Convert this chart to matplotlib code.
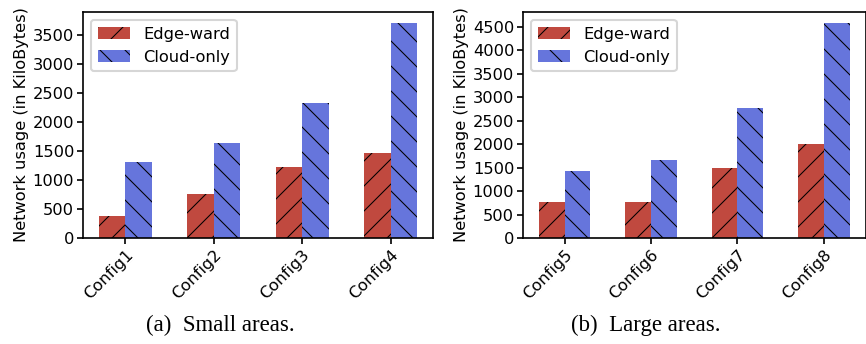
import numpy as np
from matplotlib import pyplot as plt

plt.rcParams['hatch.linewidth'] = 0.5
plt.rcParams['font.size'] = 7.8
plt.rcParams['ytick.major.pad'] = 1.2
plt.rcParams['xtick.major.pad'] = 1.5
plt.rcParams['ytick.major.size'] = 3
plt.rcParams['xtick.major.size'] = 3

configs_small = ['Config1', 'Config2', 'Config3', 'Config4']
edge_small = [375, 752, 1217, 1475]
cloud_small = [1303, 1647, 2336, 3714]

configs_large = ['Config5', 'Config6', 'Config7', 'Config8']
edge_large = [758, 758, 1480, 2004]
cloud_large = [1417, 1650, 2776, 4582]

red = '#c0493f'
blue = '#6675dc'
W, H = 866, 344

fig = plt.figure(figsize=(W / 150, H / 150), dpi=150)
ax1 = fig.add_axes([83 / W, 1 - 238 / H, 350 / W, 226 / H])
ax2 = fig.add_axes([523 / W, 1 - 238 / H, 342.5 / W, 226 / H])

width = 0.3
for ax, names, edge, cloud, yticks in [
        (ax1, configs_small, edge_small, cloud_small, range(0, 3501, 500)),
        (ax2, configs_large, edge_large, cloud_large, range(0, 4501, 500))]:
    x = np.arange(len(names))
    ax.bar(x - width / 2, edge, width, color=red, hatch='//', label='Edge-ward')
    ax.bar(x + width / 2, cloud, width, color=blue, hatch='\\\\', label='Cloud-only')
    ax.set_xticks(x)
    ax.set_xticklabels(names, rotation=45, ha='right', rotation_mode='anchor')
    ax.set_yticks(list(yticks))
    ax.set_ylabel('Network usage (in KiloBytes)', labelpad=2)
    ax.legend(loc='upper left')

fig.text(220 / W, 1 - 325 / H, '(a)  Small areas.', ha='center', va='center',
         family='Liberation Serif', fontsize=11)
fig.text(646 / W, 1 - 325 / H, '(b)  Large areas.', ha='center', va='center',
         family='Liberation Serif', fontsize=11)

plt.savefig('out.png', dpi=150)
